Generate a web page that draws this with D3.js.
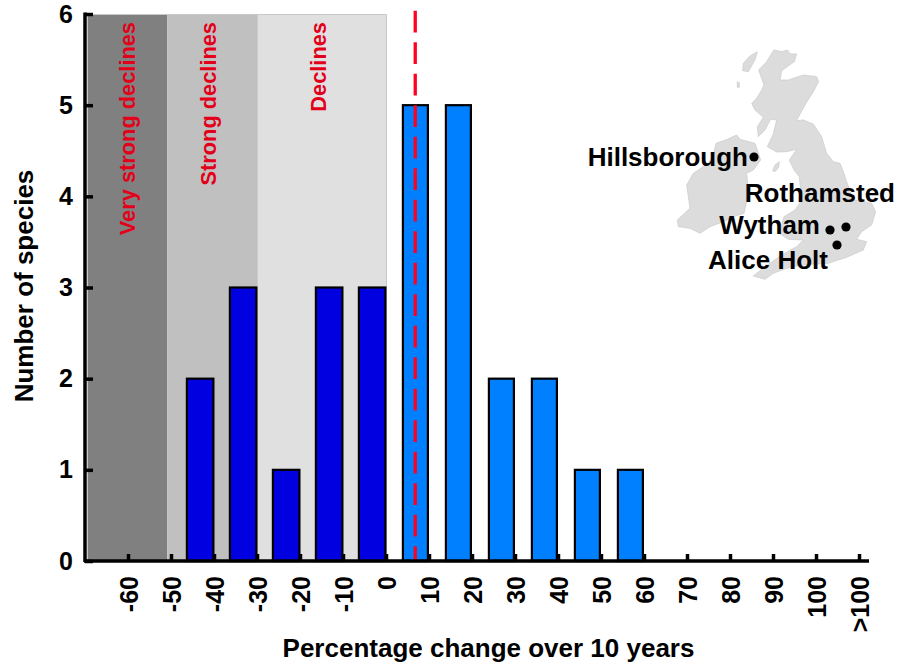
<!DOCTYPE html>
<html><head><meta charset="utf-8">
<script src="https://cdn.jsdelivr.net/npm/d3@7/dist/d3.min.js"></script>
<style>html,body{margin:0;padding:0;background:#fff}svg{display:block}text{font-family:"Liberation Sans",Arial,sans-serif;font-weight:bold}</style>
</head><body><svg id="c" width="898" height="665"></svg>
<script>
const binEdges = [-40,-30,-20,-10,0,10,20,30,40,50,60];
const speciesCounts = [2,3,1,3,3,5,5,2,2,1,1];
const tickValues = [-60,-50,-40,-30,-20,-10,0,10,20,30,40,50,60,70,80,90,100,110];
const tickLabels = ["-60","-50","-40","-30","-20","-10","0","10","20","30","40","50","60","70","80","90","100",">100"];
const bandNames = ["Very strong declines","Strong declines","Declines"];
const bandStarts = [-69.4,-50.9,-29.8];
const bandEnds = [-50.9,-29.8,0];
const bandFills = ["#808080","#c0c0c0","#e0e0e0"];
const meanChange = 6.8;
const siteNames = ["Hillsborough","Rothamsted","Wytham","Alice Holt"];

const svg = d3.select("#c");
const x = d3.scaleLinear().domain([-60,110]).range([128,859]);
const y = d3.scaleLinear().domain([0,6]).range([561,14]);

// bands
svg.selectAll("rect.band").data(bandNames).join("rect").attr("class","band")
  .attr("x",(d,i)=>x(bandStarts[i])).attr("width",(d,i)=>x(bandEnds[i])-x(bandStarts[i]))
  .attr("y",y(6)).attr("height",y(0)-y(6))
  .attr("fill",(d,i)=>bandFills[i]);
svg.append("path").attr("fill","none").attr("stroke","#c8c8c8").attr("stroke-width",1)
  .attr("d",`M${x(bandStarts[0])},${y(6)+.5}H${x(0)+.5}V${y(0)}`);
svg.selectAll("text.band").data(bandNames).join("text").attr("class","band")
  .attr("transform",(d,i)=>`translate(${[135,216,326][i]},22) rotate(-90)`)
  .attr("text-anchor","end").attr("font-size",21.8).attr("fill","#e2001a").text(d=>d);

// bars
const barW = d => d>0 ? 25 : 26.5;
svg.selectAll("rect.bar").data(speciesCounts).join("rect").attr("class","bar")
  .attr("x",(d,i)=>x(binEdges[i])-(binEdges[i]>0?1.1:0.6)-barW(binEdges[i]))
  .attr("width",(d,i)=>barW(binEdges[i])).attr("y",d=>y(d)).attr("height",d=>y(0)-y(d))
  .attr("fill",(d,i)=>binEdges[i]>0?"#0080ff":"#0000e0")
  .attr("stroke","#000").attr("stroke-width",2.2);

// mean line
svg.append("line").attr("x1",x(meanChange)).attr("x2",x(meanChange)).attr("y1",10.7).attr("y2",y(0))
  .attr("stroke","#ff0020").attr("stroke-width",3.3).attr("stroke-dasharray","21.7,9.8");

// axes
const ax = d3.axisBottom(x).tickValues(tickValues).tickFormat((d,i)=>tickLabels[i]).tickSize(-7).tickPadding(0);
const gx = svg.append("g").attr("transform",`translate(0,${y(0)})`).call(ax);
gx.select(".domain").attr("d",`M84,0H869`).attr("stroke","#000").attr("stroke-width",3.5);
gx.selectAll(".tick line").attr("stroke","#000").attr("stroke-width",3.5);
gx.selectAll(".tick text").attr("transform","translate(9,15) rotate(-90)").attr("x",0).attr("y",0).attr("dy",0)
  .attr("text-anchor","end").attr("font-size",25).attr("font-family",null).attr("fill","#000");

const ay = d3.axisLeft(y).ticks(6).tickFormat(d3.format("d")).tickSize(-8).tickPadding(12);
const gy = svg.append("g").attr("transform","translate(85,0)").call(ay);
gy.select(".domain").attr("d","M0,12.5V562").attr("stroke","#000").attr("stroke-width",3.5);
gy.selectAll(".tick line").attr("stroke","#000").attr("stroke-width",3.5);
gy.selectAll(".tick text").attr("font-size",25).attr("font-family",null).attr("fill","#000");

svg.append("text").attr("x",488.5).attr("y",657).attr("text-anchor","middle").attr("font-size",26).text("Percentage change over 10 years");
svg.append("text").attr("transform","translate(33,286) rotate(-90)").attr("text-anchor","middle").attr("font-size",26).text("Number of species");

// map backdrop (traced outline, crop pixels)
const mapG = svg.append("g").attr("transform","translate(640,30) scale(0.3333)").attr("fill","#dcdcdc").attr("stroke","#c8c8c8").attr("stroke-width",2);
const outlines = [
"M395,70L402,60L425,65L442,60L452,72L470,72L463,95L445,108L425,122L420,150L445,150L490,135L530,140L536,155L520,185L495,225L475,262L470,272L490,270L520,282L545,320L560,370L580,395L600,400L612,430L620,455L640,510L672,515L695,520L707,545L695,585L665,605L650,628L680,635L670,660L620,682L565,700L510,703L470,708L440,715L400,730L375,748L340,738L360,722L400,692L430,672L470,650L490,630L445,628L420,612L425,585L432,560L465,540L480,518L483,490L478,440L462,420L448,390L470,358L440,365L410,366L382,350L400,312L410,270L392,268L375,300L355,320L352,290L370,262L345,240L335,220L350,205L365,180L372,165L356,120L380,95Z",
"M290,315L300,328L345,340L352,360L362,390L340,420L320,430L326,490L312,550L280,560L250,575L210,590L180,610L150,595L115,590L112,570L150,535L145,500L140,465L160,430L205,400L220,375L228,340L262,328Z",
"M310,100L330,78L352,65L345,90L325,125L308,122Z",
"M292,155L298,158L298,172L292,172Z",
"M398,422L405,405L418,395L416,412L405,425Z"];
mapG.selectAll("path").data(outlines).join("path").attr("d",d=>d);

// site markers and labels
const siteDotX = [754,846,830,837], siteDotY = [157,227,230,245];
const siteLabelX = [748,895,820,828], siteLabelY = [166,202,234,269];
svg.selectAll("circle.site").data(siteNames).join("circle").attr("class","site")
  .attr("cx",(d,i)=>siteDotX[i]).attr("cy",(d,i)=>siteDotY[i]).attr("r",4.6).attr("fill","#000");
svg.selectAll("text.site").data(siteNames).join("text").attr("class","site")
  .attr("x",(d,i)=>siteLabelX[i]).attr("y",(d,i)=>siteLabelY[i]).attr("text-anchor","end").attr("font-size",26).text(d=>d);
</script></body></html>
